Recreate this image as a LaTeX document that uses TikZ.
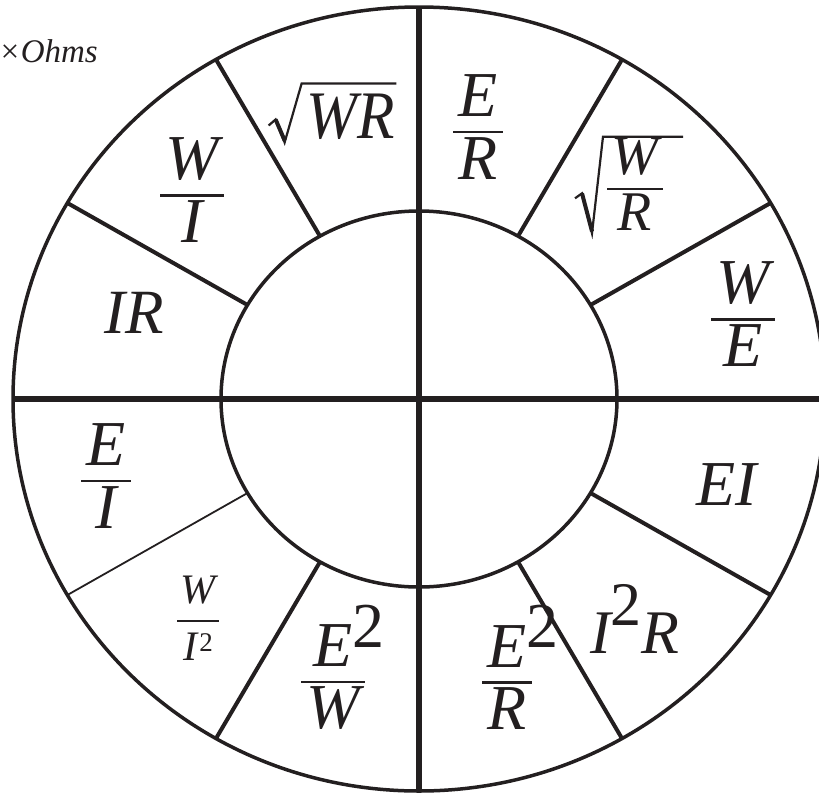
\RequirePackage{fix-cm}
\documentclass[tikz,border=0pt]{standalone}
\usepackage{fontspec}
\setmainfont{Liberation Serif}
\usetikzlibrary{calc}
\definecolor{ink}{HTML}{231F20}
\tikzset{
  lab/.style={inner sep=0pt, text=ink, font=\fontsize{64}{70}\selectfont\itshape},
  quad/.style={line width=6.5pt, draw=ink},
  ring/.style={line width=3.5pt, draw=ink},
  spoke/.style={line width=4pt, draw=ink},
  thinspoke/.style={line width=1.8pt, draw=ink},
  radical/.style={line width=2.2pt, draw=ink, line join=miter},
  radicalthick/.style={line width=4pt, draw=ink}
}
% fraction with gaps above/below the rule
\newcommand{\myfracg}[4]{\vbox{\offinterlineskip\halign{\hfil\kern.08em##\kern.08em\hfil\cr
  #3\cr\noalign{\kern#1\hrule height 2.4pt\kern#2}#4\cr}}}
\newcommand{\myfrac}[2]{\myfracg{0.22em}{0.06em}{#1}{#2}}
\newcommand{\sqtwo}{\rlap{\raisebox{0.3em}{\upshape 2}}}
\begin{document}
\begin{tikzpicture}[x=1pt,y=-1pt]
\useasboundingbox (0,0) rectangle (819,796);
\clip (0,0) rectangle (819,796);
\coordinate (c) at (419,399);
% rings
\draw[ring] (c) ellipse [x radius=406, y radius=392];
\draw[ring] (c) ellipse [x radius=198, y radius=188];
% spoke end points
\foreach \a in {30,60,120,150,210,240,300,330}{
  \coordinate (i\a) at ({419+198*cos(\a)},{399-188*sin(\a)});
  \coordinate (o\a) at ({419+406*cos(\a)},{399-392*sin(\a)});
}
\foreach \a in {30,60,120,150,240,300,330}{
  \draw[spoke] (i\a) -- (o\a);
}
\draw[thinspoke] (i210) -- (o210);
% quadrant lines
\coordinate (L) at (13,399);
\coordinate (R) at (830,399);
\coordinate (T) at (419,6);
\coordinate (B) at (419,792);
\draw[quad] (L) -- (R);
\draw[quad] (T) -- (B);
% labels
\node[anchor=base east, inner sep=0pt, text=ink, font=\fontsize{33}{36}\selectfont\itshape] (ohms) at (98,62) {×Ohms};
% sqrt(WR)
\node[lab, font=\fontsize{68}{74}\selectfont\itshape] (wr) at (351,116.5) {\scalebox{0.9}[1]{WR}};
\draw[radical] ($(wr.south west)+(-38,-14)$) -- ($(wr.south west)+(-31,-20)$)
  -- ($(wr.south west)+(-22,3)$) -- ($(wr.north west)+(-5,-10)$) -- ($(wr.north east)+(1,-10)$);
\draw[radicalthick] ($(wr.south west)+(-31,-20)$) -- ($(wr.south west)+(-22,1)$);
% E/R
\node[lab] (er) at (478,127) {\myfrac{E}{R}};
% sqrt(W/R)
\node[lab, font=\fontsize{56}{60}\selectfont\itshape] (wdr) at (635,184) {\myfrac{W}{R}};
\draw[radical] ($(wdr.south west)+(-32,-32)$) -- ($(wdr.south west)+(-25,-37)$)
  -- ($(wdr.south west)+(-15,3)$) -- ($(wdr.north west)+(-4,-1)$) -- ($(wdr.north east)+(20,-1)$);
\draw[radicalthick] ($(wdr.south west)+(-25,-37)$) -- ($(wdr.south west)+(-15,1)$);
% W/E
\node[lab] (we) at (743,314) {\myfrac{W}{E}};
% W/I
\node[lab] (wi) at (192,190) {\myfrac{W}{I}};
% IR
\node[lab, font=\fontsize{63}{68}\selectfont\itshape] (ir) at (134,312.5) {IR};
% E/I
\node[lab] (ei) at (106,476) {\myfrac{E}{I}};
% W/I^2
\node[lab, font=\fontsize{42}{46}\selectfont\itshape] (wi2) at (198,618.5) {\myfracg{15pt}{11pt}{W}{I\kern0.05em\raisebox{9pt}{\upshape\fontsize{27}{28}\selectfont 2}}};
% E^2/W
\node[lab] (e2w) at (333,667.5) {\myfrac{E\sqtwo}{W}};
% E^2/R
\node[lab] (e2r) at (507,667.5) {\myfrac{E\sqtwo}{R}};
% I^2 R
\node[lab, font=\fontsize{62}{66}\selectfont\itshape, anchor=base west] (i2r) at (590,653) {I\raisebox{0.45em}{\upshape 2}R};
% EI
\node[lab] (eiw) at (727,485) {EI};
\end{tikzpicture}
\end{document}
